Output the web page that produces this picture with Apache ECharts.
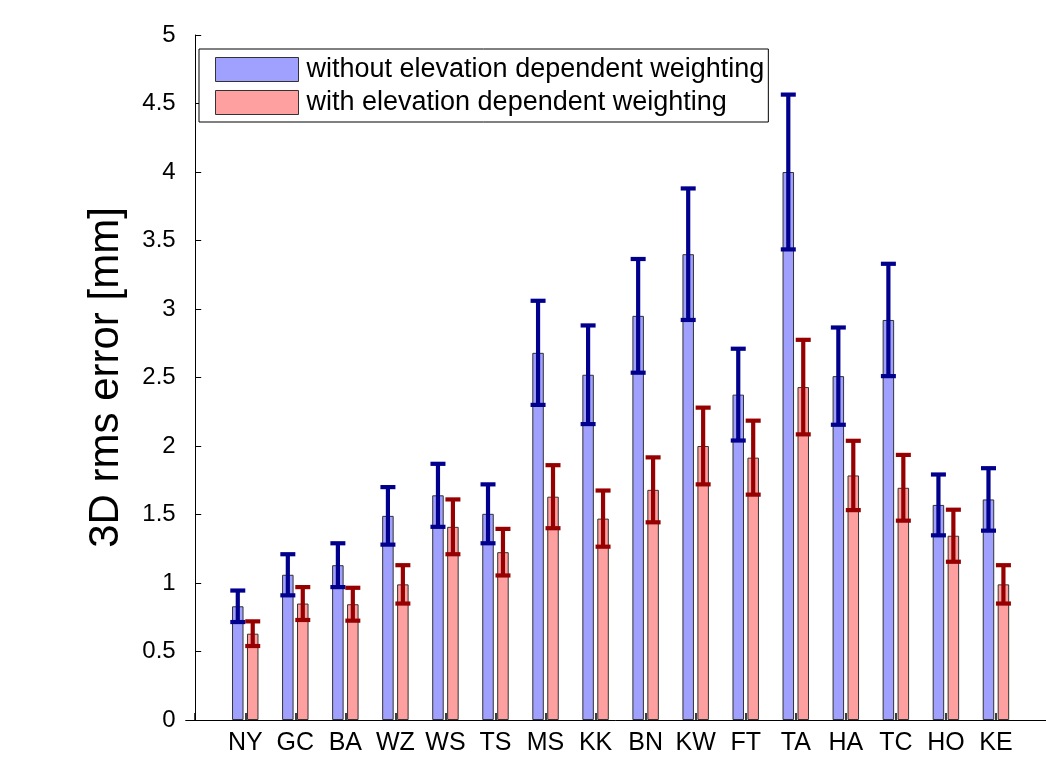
<!DOCTYPE html>
<html>
<head>
<meta charset="utf-8">
<script src="https://cdn.jsdelivr.net/npm/echarts@6/dist/echarts.min.js"></script>
<style>html,body{margin:0;padding:0;background:#fff;}#c{width:1046px;height:765px;}</style>
</head>
<body>
<div id="c"></div>
<script>
const categories = ['NY','GC','BA','WZ','WS','TS','MS','KK','BN','KW','FT','TA','HA','TC','HO','KE'];
const withoutWeighting = [0.83,1.06,1.13,1.49,1.64,1.505,2.68,2.52,2.95,3.40,2.375,4.0,2.51,2.92,1.57,1.61];
const withWeighting = [0.63,0.85,0.845,0.99,1.41,1.225,1.63,1.47,1.68,2.0,1.915,2.43,1.785,1.695,1.345,0.99];
const errWithout = [0.115,0.15,0.16,0.21,0.23,0.215,0.38,0.36,0.415,0.48,0.335,0.565,0.355,0.41,0.222,0.228];
const errWith = [0.09,0.12,0.12,0.14,0.2,0.17,0.23,0.205,0.237,0.28,0.27,0.345,0.253,0.24,0.19,0.14];
const seriesNames = ['without elevation dependent weighting','with elevation dependent weighting'];

const FONT = 'Liberation Sans, Arial, Helvetica, sans-serif';
const BAR_W = 11.5;
const BAR_GAP = 0.3;
const OFFSET = (BAR_W * (1 + BAR_GAP)) / 2;

const positions = categories.map((c, i) => i + 1);
const tickPositions = [0].concat(positions);

function pairs(vals) { return vals.map((v, i) => [positions[i], v]); }
function errData(vals, errs) { return vals.map((v, i) => [positions[i], v, errs[i]]); }

function errRenderer(offset, color) {
  return function (params, api) {
    const x = api.value(0), y = api.value(1), e = api.value(2);
    const top = api.coord([x, y + e]);
    const bot = api.coord([x, y - e]);
    const cx = top[0] + offset;
    const half = 7.5;
    const style = { stroke: color, lineWidth: 4.2, lineCap: 'butt' };
    return {
      type: 'group',
      children: [
        { type: 'line', shape: { x1: cx, y1: top[1], x2: cx, y2: bot[1] }, style: style },
        { type: 'line', shape: { x1: cx - half, y1: top[1], x2: cx + half, y2: top[1] }, style: style },
        { type: 'line', shape: { x1: cx - half, y1: bot[1], x2: cx + half, y2: bot[1] }, style: style }
      ]
    };
  };
}

const chart = echarts.init(document.getElementById('c'), null, { renderer: 'canvas' });
chart.setOption({
  backgroundColor: '#fff',
  animation: false,
  grid: { left: 185.7, right: -7.6, top: 35, bottom: 45 },
  legend: {
    data: seriesNames.map(n => ({ name: n, icon: 'rect' })),
    orient: 'vertical',
    left: 199,
    top: 49,
    itemWidth: 83,
    itemHeight: 24,
    itemGap: 6,
    padding: [7, 4, 6, 16],
    borderColor: '#000',
    borderWidth: 1,
    backgroundColor: '#fff',
    textStyle: { fontFamily: FONT, fontSize: 27, color: '#000', padding: [0, 0, 0, 3] },
    itemStyle: { borderColor: '#333', borderWidth: 1 }
  },
  xAxis: {
    type: 'value',
    min: -0.19,
    max: 17,
    splitLine: { show: false },
    axisLine: { show: true, lineStyle: { color: '#000', width: 1 } },
    axisTick: { show: true, inside: true, length: 7, customValues: tickPositions, lineStyle: { color: '#000', width: 1.5 } },
    axisLabel: {
      customValues: positions,
      formatter: function (v) { return categories[Math.round(v) - 1] || ''; },
      fontFamily: FONT, fontSize: 25, color: '#000', margin: 11
    }
  },
  yAxis: {
    type: 'value',
    min: 0,
    max: 5,
    interval: 0.5,
    name: '3D rms error [mm]',
    nameLocation: 'middle',
    nameGap: 58,
    nameTextStyle: { fontFamily: FONT, fontSize: 42, color: '#000' },
    splitLine: { show: false },
    axisLine: { show: true, lineStyle: { color: '#000', width: 1 } },
    axisTick: { show: true, inside: true, length: 6, lineStyle: { color: '#000' } },
    axisLabel: { fontFamily: FONT, fontSize: 24, color: '#000', margin: 10 }
  },
  series: [
    {
      name: seriesNames[0], type: 'bar', data: pairs(withoutWeighting),
      barWidth: BAR_W, barGap: (BAR_GAP * 100) + '%',
      itemStyle: { color: '#a0a0ff', borderColor: '#333', borderWidth: 1 }
    },
    {
      name: seriesNames[1], type: 'bar', data: pairs(withWeighting),
      barWidth: BAR_W, barGap: (BAR_GAP * 100) + '%',
      itemStyle: { color: '#ffa0a0', borderColor: '#333', borderWidth: 1 }
    },
    {
      name: 'err1', type: 'custom', z: 5, data: errData(withoutWeighting, errWithout),
      renderItem: errRenderer(-OFFSET, '#00008c')
    },
    {
      name: 'err2', type: 'custom', z: 5, data: errData(withWeighting, errWith),
      renderItem: errRenderer(OFFSET, '#960000')
    }
  ]
});
</script>
</body>
</html>
